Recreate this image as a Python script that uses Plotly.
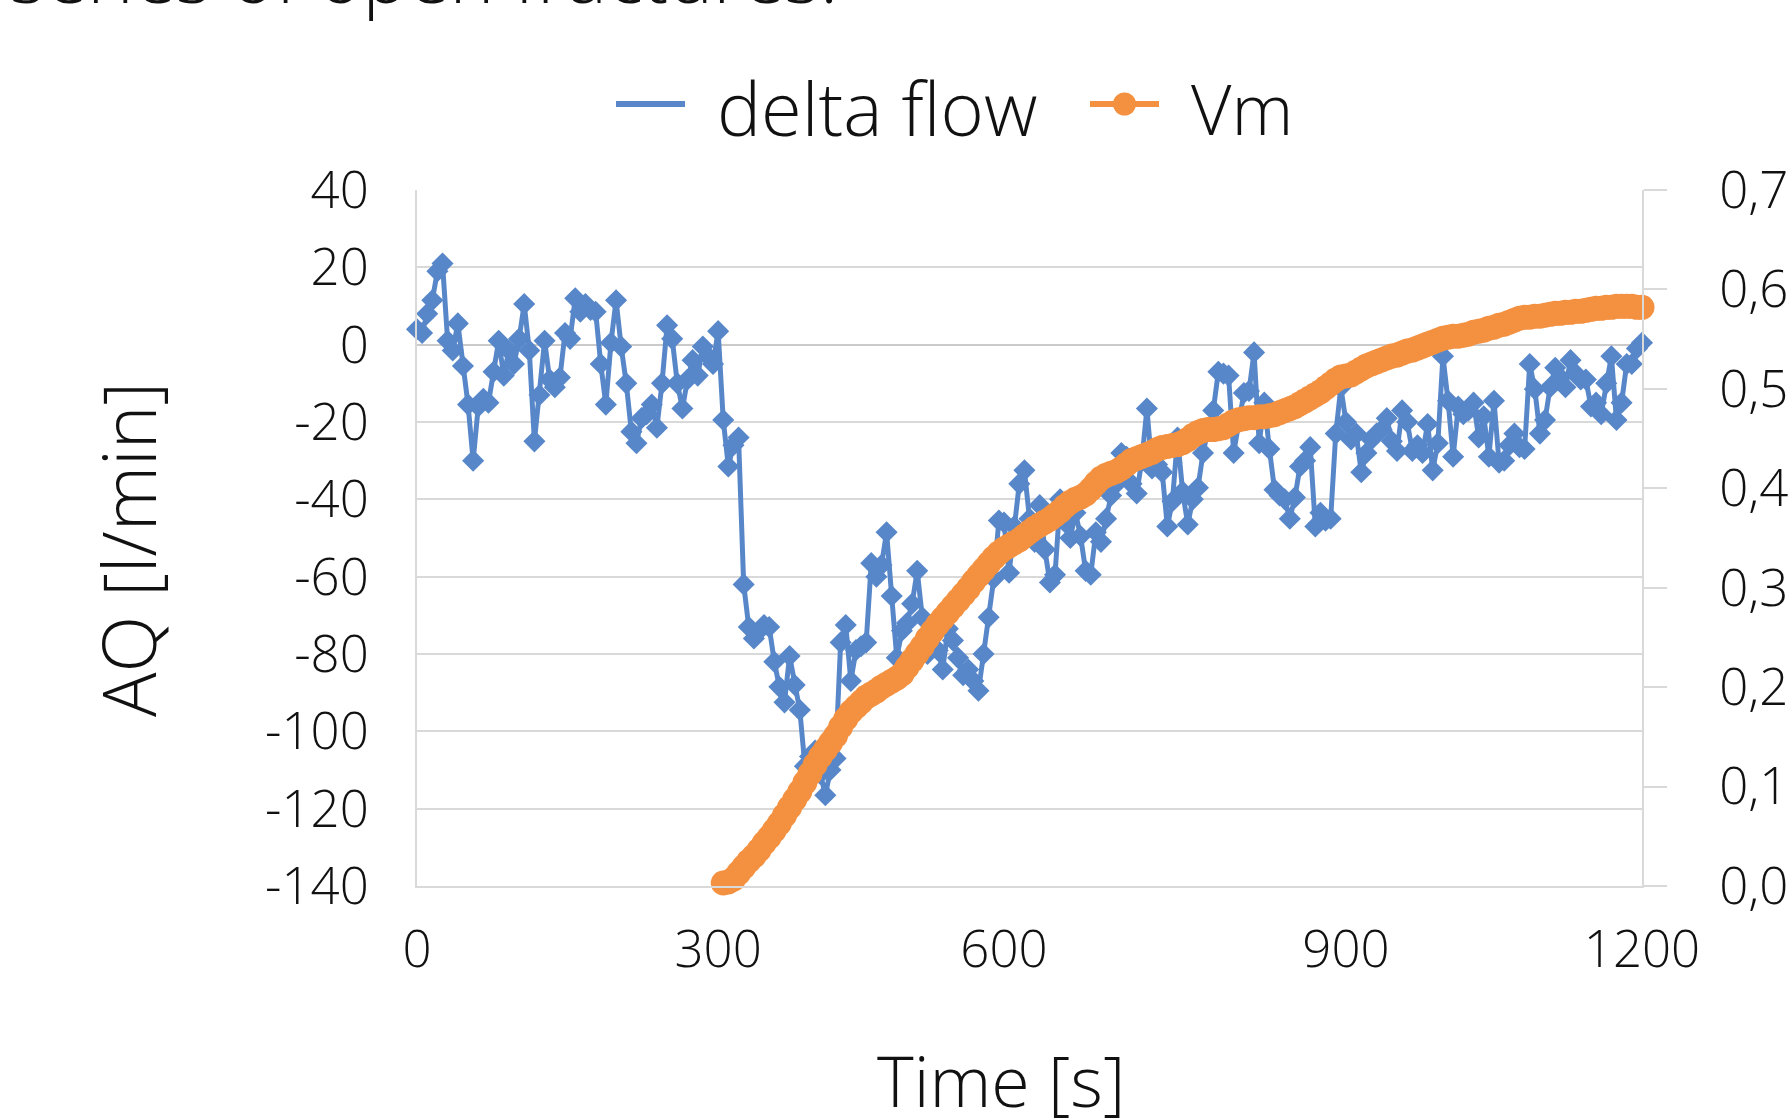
import plotly.graph_objects as go

# ---------------- data ----------------
# samples (category index along the time axis), labelled like the original
time_tick_index = [0, 59, 115, 182, 240]
time_tick_labels = ["0", "300", "600", "900", "1200"]

delta_flow = [
    4, 3, 8, 11.5, 19, 21, 1, -1.5, 5.5, -5.5,
    -15.5, -30, -16, -14, -15, -7, 1, -8, -1.5, -5,
    1.5, 10.5, -1.5, -25, -13, 1, -9, -11, -8.5, 3,
    1.5, 12, 8.5, 10.5, 9, 8.5, -5, -15.5, 0.5, 11.5,
    -0.5, -10, -22.5, -25.5, -19, -18, -15.5, -21.5, -10, 5,
    1.5, -10, -16.5, -9, -4, -8, -0.5, -3, -5, 3.5,
    -19.5, -31.5, -26, -24, -62, -73, -76, -74, -72.5, -73,
    -82, -88.5, -92.5, -80.5, -88, -94.5, -109, -106.5, -105, -111,
    -116.5, -110, -107, -77, -72.5, -87, -79, -78, -77, -56.5,
    -60, -57, -48.5, -65, -81, -74, -72, -67, -58.5, -70.5,
    -80, -74, -79, -84, -73.5, -76.5, -81, -85.5, -84, -87,
    -89.5, -80, -70.5, -60.5, -45.5, -46, -59, -47, -36, -32.5,
    -45, -51, -41.5, -53, -61.5, -59.5, -40, -46, -50, -43.5,
    -49.5, -58.5, -59.5, -48.5, -51, -45, -39, -36, -28, -29,
    -36, -38.5, -30, -16.5, -32, -31, -33, -47, -40.5, -24,
    -38, -46.5, -40, -37, -28, -22, -17, -7, -7.5, -8,
    -28, -20, -12.5, -12, -2, -25.5, -15, -27, -37.5, -39,
    -40, -45, -39.5, -31.5, -30, -26.5, -47, -43.5, -45.5, -45,
    -23, -11, -20, -24.5, -23, -33, -28, -24.5, -23, -22,
    -19, -25, -27.5, -17, -20, -27.5, -26, -28, -20.5, -32.5,
    -25.5, -3, -14.5, -29, -16, -18, -17, -15, -24, -18.5,
    -29, -14.5, -30.5, -30, -26, -23, -26.5, -27, -5, -11.5,
    -23, -19.5, -11, -6, -8.5, -11, -4, -7.5, -9, -9,
    -16, -15, -18, -10, -3, -19.5, -15, -5, -5, -1,
    0.5,
]

vm_start_index = 60
vm = [
    0.003, 0.004, 0.007, 0.013, 0.019, 0.025, 0.030, 0.036, 0.043, 0.049,
    0.056, 0.063, 0.071, 0.079, 0.087, 0.095, 0.104, 0.113, 0.122, 0.130,
    0.137, 0.144, 0.151, 0.160, 0.168, 0.175, 0.180, 0.185, 0.190, 0.193,
    0.196, 0.200, 0.203, 0.206, 0.209, 0.213, 0.220, 0.227, 0.234, 0.241,
    0.249, 0.256, 0.263, 0.269, 0.275, 0.281, 0.287, 0.293, 0.299, 0.306,
    0.312, 0.318, 0.324, 0.330, 0.335, 0.339, 0.342, 0.345, 0.348, 0.352,
    0.356, 0.360, 0.363, 0.366, 0.369, 0.373, 0.377, 0.382, 0.386, 0.389,
    0.391, 0.394, 0.399, 0.405, 0.410, 0.413, 0.415, 0.417, 0.420, 0.424,
    0.428, 0.430, 0.432, 0.434, 0.436, 0.439, 0.441, 0.442, 0.443, 0.444,
    0.446, 0.449, 0.453, 0.456, 0.458, 0.459, 0.459, 0.460, 0.461, 0.464,
    0.467, 0.469, 0.470, 0.471, 0.471, 0.472, 0.472, 0.473, 0.474, 0.476,
    0.478, 0.480, 0.482, 0.485, 0.488, 0.491, 0.494, 0.497, 0.501, 0.505,
    0.509, 0.512, 0.513, 0.514, 0.517, 0.520, 0.523, 0.525, 0.527, 0.529,
    0.531, 0.533, 0.534, 0.536, 0.538, 0.539, 0.541, 0.543, 0.545, 0.547,
    0.549, 0.551, 0.552, 0.553, 0.553, 0.554, 0.555, 0.557, 0.558, 0.559,
    0.561, 0.562, 0.564, 0.565, 0.567, 0.569, 0.571, 0.572, 0.572, 0.573,
    0.573, 0.574, 0.575, 0.576, 0.576, 0.577, 0.577, 0.578, 0.578, 0.579,
    0.580, 0.581, 0.581, 0.582, 0.582, 0.583, 0.583, 0.583, 0.583, 0.582,
    0.582,
]

left_ticks = [-140, -120, -100, -80, -60, -40, -20, 0, 20, 40]
left_tick_labels = ["-140", "-120", "-100", "-80", "-60", "-40", "-20", "0", "20", "40"]
right_ticks = [0.0, 0.1, 0.2, 0.3, 0.4, 0.5, 0.6, 0.7]
right_tick_labels = ["0,00", "0,10", "0,20", "0,30", "0,40", "0,50", "0,60", "0,70"]

series_names = ["delta flow", "Vm"]
x_title = "Time [s]"
y_title = "AQ [l/min]"
top_text = "series of open fractures."

# ---------------- style ----------------
W, H = 1790, 1118
L, R, T, B = 417, 148, 190, 232
PW, PH = W - L - R, H - T - B
BLUE = "#5787C9"
ORANGE = "#F39141"
GRID = "#d9d9d9"
FONT = "Open Sans"
TXT = "#111111"
WEIGHT = 300


def px(xp):
    return (xp - L) / PW


def py(yp):
    return (H - B - yp) / PH


x_flow = list(range(len(delta_flow)))
x_vm = list(range(vm_start_index, vm_start_index + len(vm)))

fig = go.Figure()
fig.add_trace(go.Scatter(
    x=x_flow, y=delta_flow, name=series_names[0], mode="lines+markers",
    line=dict(color=BLUE, width=5),
    marker=dict(symbol="diamond", size=17, color=BLUE),
    cliponaxis=False, showlegend=False,
))
fig.add_trace(go.Scatter(
    x=x_vm, y=vm, name=series_names[1], mode="lines+markers", yaxis="y2",
    line=dict(color=ORANGE, width=10),
    marker=dict(symbol="circle", size=25, color=ORANGE),
    cliponaxis=False, showlegend=False,
))

# custom legend
leg_y = 104
fig.add_shape(type="line", xref="paper", yref="paper",
              x0=px(616), x1=px(685), y0=py(leg_y), y1=py(leg_y),
              line=dict(color=BLUE, width=6))
fig.add_shape(type="line", xref="paper", yref="paper",
              x0=px(1090), x1=px(1159), y0=py(leg_y), y1=py(leg_y),
              line=dict(color=ORANGE, width=6))
fig.add_shape(type="circle", xref="paper", yref="paper",
              x0=px(1113), x1=px(1136), y0=py(leg_y - 11.5), y1=py(leg_y + 11.5),
              fillcolor=ORANGE, line=dict(color=ORANGE, width=0))

annos = [
    dict(text=series_names[0], x=px(715), y=py(55), xanchor="left", yanchor="top", size=74),
    dict(text=series_names[1], x=px(1189), y=py(58), xanchor="left", yanchor="top", size=70),
    dict(text=x_title, x=px(1001), y=py(1030), xanchor="center", yanchor="top", size=70),
    dict(text=top_text, x=px(8), y=py(-80), xanchor="left", yanchor="top", size=76),
]
for a in annos:
    fig.add_annotation(text=a["text"], x=a["x"], y=a["y"], xref="paper", yref="paper",
                       xanchor=a["xanchor"], yanchor=a["yanchor"], showarrow=False,
                       font=dict(family=FONT, size=a["size"], color=TXT, weight=WEIGHT))
fig.add_annotation(text=y_title, x=px(127), y=py(550), xref="paper", yref="paper",
                   xanchor="center", yanchor="middle", textangle=-90, showarrow=False,
                   font=dict(family=FONT, size=74, color=TXT, weight=WEIGHT))

tickfont = dict(family=FONT, size=51, color=TXT, weight=WEIGHT)

fig.update_layout(
    template="none",
    width=W, height=H, autosize=False,
    margin=dict(l=L, r=R, t=T, b=B, pad=0),
    paper_bgcolor="white", plot_bgcolor="white",
    font=dict(family=FONT, size=50, color=TXT),
    showlegend=False,
    xaxis=dict(
        range=[0, len(delta_flow) - 1], tickmode="array",
        tickvals=time_tick_index, ticktext=time_tick_labels,
        showgrid=False, zeroline=False, showline=True, linecolor=GRID, linewidth=2,
        ticks="", ticklabelstandoff=18, automargin=False,
        tickfont=tickfont,
    ),
    yaxis=dict(
        range=[-140, 40], tickmode="array", tickvals=left_ticks, ticktext=left_tick_labels,
        showgrid=True, gridcolor=GRID, gridwidth=2,
        zeroline=True, zerolinecolor="#cacaca", zerolinewidth=2,
        showline=True, linecolor=GRID, linewidth=2, ticks="",
        ticklabelstandoff=36, automargin=False,
        tickfont=tickfont,
    ),
    yaxis2=dict(
        range=[0, 0.7], overlaying="y", side="right", tickmode="array",
        tickvals=right_ticks, ticktext=right_tick_labels,
        showgrid=False, zeroline=False, showline=True, linecolor=GRID, linewidth=2,
        ticks="outside", ticklen=23, tickwidth=2, tickcolor=GRID,
        ticklabelstandoff=42, automargin=False,
        tickfont=tickfont,
    ),
)

fig.write_html("out.html")
